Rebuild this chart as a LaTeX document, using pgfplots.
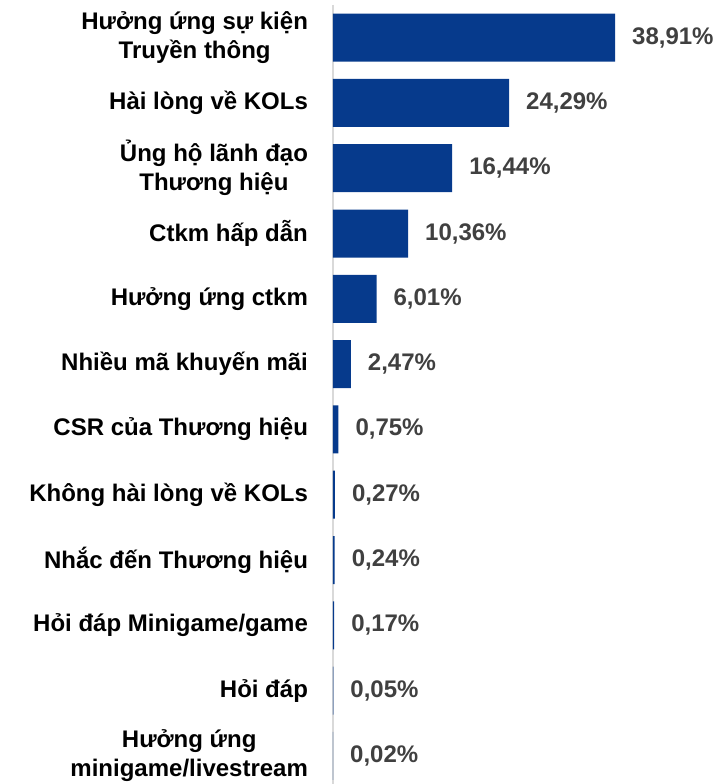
\documentclass[border=0pt]{standalone}
\usepackage{fontspec}
\setmainfont{Liberation Sans}
\usepackage{pgfplots}
\pgfplotsset{compat=1.18}
\definecolor{barblue}{HTML}{063A8C}
\definecolor{valgray}{HTML}{404040}
\definecolor{axgray}{HTML}{D9D9D9}
\begin{document}
\begin{tikzpicture}
\begin{axis}[
  at={(166.5pt,0pt)}, anchor=south west,
  x=3.625pt, y=32.65pt,
  xmin=0, xmax=53.4,
  ymin=-0.5, ymax=11.43,
  y dir=reverse,
  xbar, bar width=24pt, bar shift=0pt,
  axis x line=none,
  axis y line*=left,
  axis line style={axgray, line width=1pt},
  ytick={0,...,11},
  yticklabels={{Hưởng ứng sự kiện\\Truyền thông},{Hài lòng về KOLs},{Ủng hộ lãnh đạo\\Thương hiệu},{Ctkm hấp dẫn},{Hưởng ứng ctkm},{Nhiều mã khuyến mãi},{CSR của Thương hiệu},{Không hài lòng về KOLs},{Nhắc đến Thương hiệu},{Hỏi đáp Minigame/game},{Hỏi đáp},{Hưởng ứng\\minigame/livestream}},
  yticklabel style={align=center, font=\bfseries\fontsize{12}{14.5}\selectfont, text=black, xshift=-9pt},
  major tick length=0pt,
  clip=false,
  point meta=x,
  nodes near coords={\pgfmathprintnumber[use comma,fixed,fixed zerofill,precision=2,assume math mode=true]{\pgfplotspointmeta}\%},
  nodes near coords style={anchor=west, xshift=5pt, font=\bfseries\fontsize{12}{14.5}\selectfont, text=valgray},
]
\addplot[fill=barblue, draw=none] coordinates {
(38.91,0) (24.29,1) (16.44,2) (10.36,3) (6.01,4) (2.47,5) (0.75,6) (0.27,7) (0.24,8) (0.17,9) (0.05,10) (0.02,11)
};
\end{axis}
\pgfresetboundingbox
\path (0,0) rectangle (360pt,392pt);
\end{tikzpicture}
\end{document}
